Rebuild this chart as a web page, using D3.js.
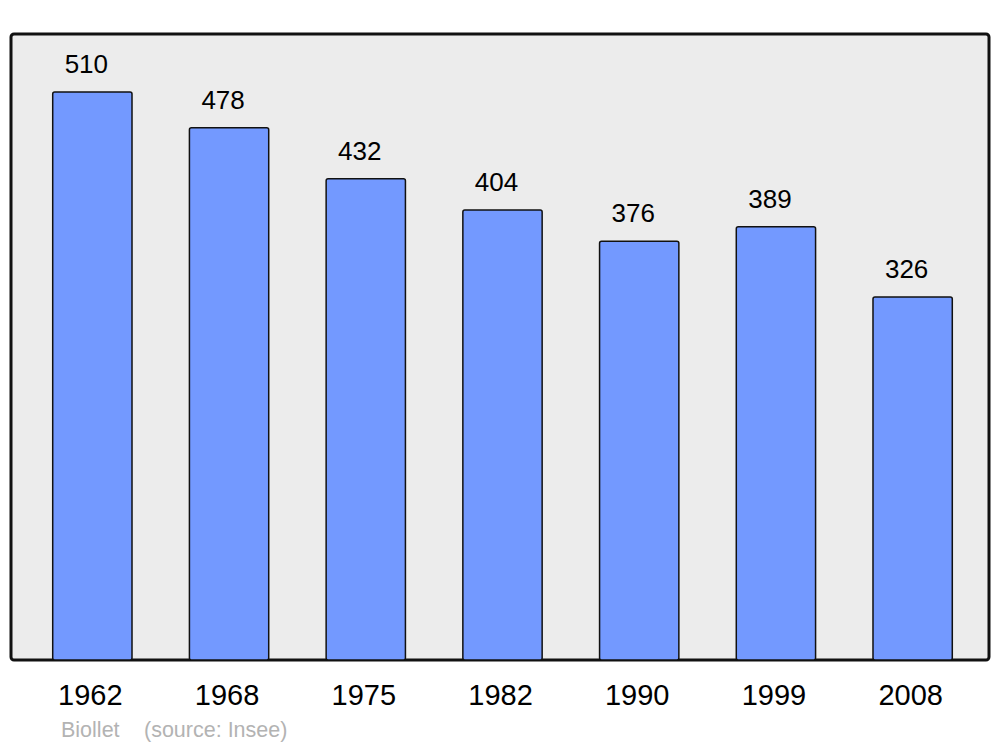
<!DOCTYPE html>
<html>
<head>
<meta charset="utf-8">
<script src="https://cdn.jsdelivr.net/npm/d3@7"></script>
<style>
  body { margin: 0; background: #fff; }
  text { font-family: "Liberation Sans", Arial, sans-serif; }
</style>
</head>
<body>
<div id="chart"></div>
<script>
// population by census year
var years = ['1962', '1968', '1975', '1982', '1990', '1999', '2008'];
var population = [510, 478, 432, 404, 376, 389, 326];
var credit = 'Biollet', source = '(source: Insee)';

var width = 1000, height = 747;
var frame = {left: 11, top: 34, right: 989, bottom: 660};

var svg = d3.select('#chart').append('svg')
    .attr('width', width)
    .attr('height', height);

// grey plot area
svg.append('rect')
    .attr('x', frame.left)
    .attr('y', frame.top)
    .attr('width', frame.right - frame.left)
    .attr('height', frame.bottom - frame.top)
    .attr('rx', 3)
    .style('fill', '#ececec')
    .style('stroke', '#111')
    .style('stroke-width', 3);

let x = d3.scaleBand()
    .domain(years)
    .range([24, 981])
    .paddingInner(0.42)
    .paddingOuter(0.21);

// 510 sits at y=92
let y = d3.scaleLinear()
    .domain([0, 510])
    .range([frame.bottom, 92]);

let data = years.map(function(d, i){ return {year: d, value: population[i]}; });

let bars = svg.selectAll('.bar')
    .data(data)
    .enter()
    .append('g')
    .attr('class', 'bar');

bars.append('rect')
    .attr('x', function(d){ return x(d.year); })
    .attr('y', function(d){ return y(d.value); })
    .attr('width', x.bandwidth())
    .attr('height', function(d){ return frame.bottom - y(d.value); })
    .attr('rx', 2)
    .style('fill', '#7399ff')
    .style('stroke', '#111')
    .style('stroke-width', 1.5);

// labels sit a little left of the bar centre in the original
bars.append('text')
    .attr('x', function(d){ return x(d.year) + x.bandwidth()/2 - 6; })
    .attr('y', function(d){ return y(d.value) - 19; })
    .attr('text-anchor', 'middle')
    .style('font-size', '26px')
    .text(function(d){ return d.value; });

// year axis, no line or ticks
let axis = svg.append('g')
    .attr('transform', `translate(-2, ${frame.bottom})`)
    .call(d3.axisBottom(x).tickSize(0).tickPadding(0));
axis.select('.domain').remove();
axis.selectAll('text')
    .attr('dy', null)
    .attr('y', 45)
    .style('font-family', '"Liberation Sans", Arial, sans-serif')
    .style('font-size', '29px')
    .style('fill', '#000');

svg.append('text')
    .attr('x', 61)
    .attr('y', 737)
    .style('font-size', '21.5px')
    .style('fill', '#b3b3b3')
    .text(credit);

svg.append('text')
    .attr('x', 144)
    .attr('y', 737)
    .style('font-size', '21.5px')
    .style('fill', '#b3b3b3')
    .text(source);
</script>
</body>
</html>
